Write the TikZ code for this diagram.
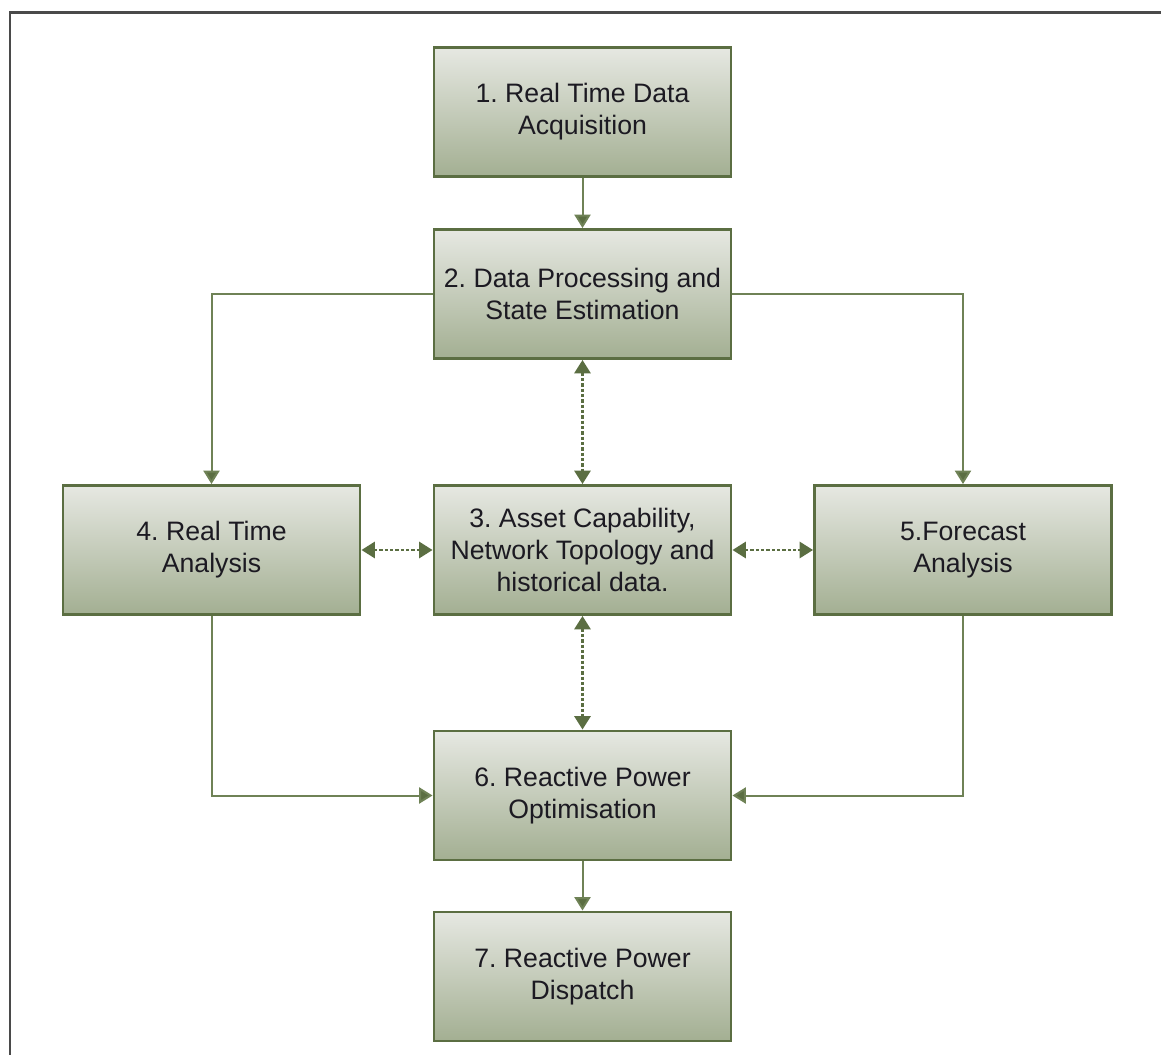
\documentclass[tikz,border=0pt]{standalone}
\usepackage{fontspec}
\setmainfont{Liberation Sans}
\usetikzlibrary{arrows.meta}
\frenchspacing
\definecolor{boxedge}{HTML}{5B6E42}
\definecolor{linkcol}{HTML}{6F8256}
\definecolor{shadetop}{HTML}{E6E8E2}
\definecolor{shadebot}{HTML}{A3AF92}
\definecolor{framecol}{HTML}{4A4A4A}
\definecolor{txt}{HTML}{1C1A22}
\begin{document}
\begin{tikzpicture}[x=0.75pt,y=-0.75pt,
  stagebox/.style={draw=boxedge, line width=2.2pt, top color=shadetop, bottom color=shadebot,
    minimum width=222.75pt, minimum height=96.75pt, inner sep=0pt, align=center,
    text=txt, font=\fontsize{20}{24}\selectfont},
  conn/.style={draw=linkcol, line width=1.5pt, -{Triangle[length=10pt,width=12pt,fill=boxedge]}},
  dconn/.style={draw=boxedge, line width=2pt, dash pattern=on 2.5pt off 1.5pt,
    {Triangle[length=10pt,width=12pt,fill=boxedge]}-{Triangle[length=10pt,width=12pt,fill=boxedge]}}
]
\useasboundingbox (0,0) rectangle (1161,1055);
% open frame: only the top and left edges fall inside the page
\draw[framecol, line width=1.8pt] (1161,12.5) -- (10,12.5) -- (10,1055);

% stages
\node[stagebox] (b1) at (582.5,112)   {1. Real Time Data\\Acquisition};
\node[stagebox] (b2) at (582.5,294)   {2. Data Processing and\\State Estimation};
\node[stagebox] (b3) at (582.5,550)   {3. Asset Capability,\\Network Topology and\\historical data.};
\node[stagebox] (b4) at (211.5,550)   {4. Real Time\\Analysis};
\node[stagebox] (b5) at (963,550)     {5.Forecast\\Analysis};
\node[stagebox] (b6) at (582.5,795.5) {6. Reactive Power\\Optimisation};
\node[stagebox] (b7) at (582.5,976.5) {7. Reactive Power\\Dispatch};

% solid flow
\draw[conn] (b1.south) -- (b2.north);
\draw[conn] (b2.west) -| (b4.north);
\draw[conn] (b2.east) -| (b5.north);
\draw[conn] (b4.south) |- (b6.west);
\draw[conn] (b5.south) |- (b6.east);
\draw[conn] (b6.south) -- (b7.north);

% two-way data exchange with the asset store
\draw[dconn] (b2.south) -- (b3.north);
\draw[dconn] (b4.east) -- (b3.west);
\draw[dconn] (b3.east) -- (b5.west);
\draw[dconn] (b3.south) -- (b6.north);
\end{tikzpicture}
\end{document}
